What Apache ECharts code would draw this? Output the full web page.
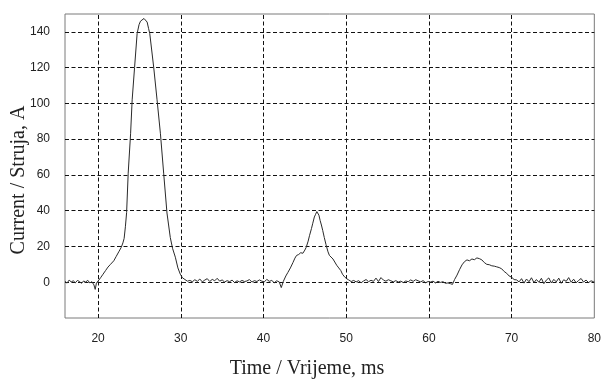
<!DOCTYPE html>
<html>
<head>
<meta charset="utf-8">
<script src="https://cdn.jsdelivr.net/npm/echarts@6/dist/echarts.min.js"></script>
<style>
html,body{margin:0;padding:0;background:#fff;}
#chart{width:604px;height:379px;}
</style>
</head>
<body>
<div id="chart"></div>
<script>
// Time (ms) and current (A)
var time = [
16.0,16.25,16.5,16.75,17.0,17.25,17.5,17.75,18.0,18.25,18.5,18.75,19.0,19.25,19.5,19.65,19.8,20.0,
20.3,20.6,20.9,21.2,21.5,21.9,22.2,22.5,22.8,23.0,23.15,23.3,23.45,23.64,23.93,24.12,24.41,24.72,24.95,25.13,25.35,25.55,25.75,25.93,26.1,26.25,26.73,27.13,27.54,27.93,28.33,28.73,29.0,29.34,29.65,29.94,30.2,
30.5,30.8,31.1,31.4,31.7,32.0,32.3,32.6,32.9,33.2,33.5,33.8,34.1,34.4,34.7,35.0,35.3,35.6,35.9,36.2,36.5,36.8,37.1,37.4,37.7,38.0,38.3,38.6,38.9,39.2,39.5,39.8,40.1,40.4,40.7,41.0,41.3,41.6,41.9,42.15,
42.4,42.7,42.95,43.25,43.56,43.8,44.0,44.25,44.5,44.76,45.0,45.16,45.4,45.56,45.8,45.96,46.15,46.3,46.45,46.55,46.7,46.85,47.0,47.16,47.35,47.56,47.8,47.97,48.2,48.4,48.6,48.85,49.1,49.35,49.55,49.8,50.05,50.3,
50.6,50.9,51.2,51.5,51.8,52.1,52.4,52.7,53.0,53.3,53.6,53.9,54.2,54.5,54.8,55.1,55.4,55.7,56.0,56.3,56.6,56.9,57.2,57.5,57.8,58.1,58.4,58.7,59.0,59.3,59.6,59.9,60.2,60.5,60.8,61.1,61.4,61.7,62.0,62.3,62.6,62.85,
63.1,63.4,63.7,64.0,64.3,64.6,64.9,65.2,65.5,65.8,66.1,66.4,66.7,67.0,67.3,67.6,67.9,68.2,68.5,68.8,69.1,69.4,69.7,70.0,70.3,70.6,
70.9,71.2,71.5,71.8,72.1,72.4,72.7,73.0,73.3,73.6,73.9,74.2,74.5,74.8,75.1,75.4,75.7,76.0,76.3,76.6,76.9,77.2,77.5,77.8,78.1,78.4,78.7,79.0,79.3,79.6,79.9,80.0
];
var current = [
0.5,-0.5,1.2,0.2,0.8,-0.3,1.0,0.4,-0.6,0.7,0.1,1.1,-0.4,0.3,-1.5,-4.0,-0.5,0.5,
2.5,4.5,6.5,8.5,10,12,14.5,17,19.5,22,24.5,31,39,61,83,102,120,139,144,146,147,147.5,147,145.5,142,139,120,102,83,61,38.7,25,19,14,8,4.5,2.5,
1.5,0.6,1.0,0.3,1.4,0.5,1.8,0.2,1.2,2.0,0.4,1.6,0.8,2.2,0.6,1.3,0.1,0.9,0.3,1.2,-0.2,0.8,0.2,1.0,0.4,0.7,1.5,0.1,0.9,0.4,1.3,0.6,0.2,1.6,0.5,1.0,-0.3,0.8,0.2,-3.0,
0.5,3.5,5.5,8,11,13.5,15,15.5,16.5,16.2,18,19.5,23,26,30,33,36.5,38,39.5,38.5,37.5,34.5,32,29,25,21,17,15,14,13,12,9.5,8,6.5,4.5,3,2,1.3,
0.4,1.0,0.2,0.9,-0.3,0.7,1.5,0.3,1.1,0.5,2.3,0.4,2.6,1.2,0.6,1.4,0.8,0.2,0.9,0.1,0.6,-0.2,0.7,0.3,1.3,0.5,1.4,0.8,0.2,0.9,-0.3,0.4,0.1,0.6,-0.4,0.5,-0.1,0.3,-0.6,-0.4,-0.8,-1.2,
1.5,4,7,9.7,11.5,12.5,12,13,12.6,13.6,13.2,12.5,11,10,9.8,9.2,9.0,8.6,8.2,7.5,6,5,3.5,2.8,1.5,1.3,
0.2,2.0,-0.5,1.8,0.3,2.5,-0.2,1.5,0.0,2.2,-0.8,1.2,2.4,-0.4,1.6,0.2,2.3,-0.6,1.4,0.5,2.6,0.0,1.7,-0.3,1.0,2.1,0.1,1.2,-0.2,0.8,0.3,0.5
];
var xTickLabels = [20, 30, 40, 50, 60, 70, 80];
var xGridLines = [20, 30, 40, 50, 60, 70];
var yTickLabels = [0, 20, 40, 60, 80, 100, 120, 140];
var xTitle = 'Time / Vrijeme, ms';
var yTitle = 'Current / Struja, A';

var seriesData = time.map(function (t, i) { return [t, current[i]]; });
var gridLineStyle = { color: '#111', width: 1, type: [4, 2.5] };
var markData = xGridLines.map(function (v) { return { xAxis: v }; })
  .concat(yTickLabels.map(function (v) { return { yAxis: v }; }));

var chart = echarts.init(document.getElementById('chart'), null, { renderer: 'canvas' });
chart.setOption({
  animation: false,
  backgroundColor: '#fff',
  grid: { left: 65, right: 6, top: 14, bottom: 61, show: true, borderColor: '#7a7a7a', borderWidth: 1, backgroundColor: 'transparent' },
  xAxis: {
    type: 'value', min: 16, max: 80, interval: 2,
    axisLine: { show: false }, axisTick: { show: false }, splitLine: { show: false },
    axisLabel: {
      margin: 15, color: '#222', fontSize: 12,
      fontFamily: '"Liberation Sans Narrow", "Arial Narrow", "Liberation Sans", sans-serif',
      formatter: function (v) { return xTickLabels.indexOf(v) >= 0 ? String(v) : ''; }
    }
  },
  yAxis: {
    type: 'value', min: -20, max: 150, interval: 20,
    axisLine: { show: false }, axisTick: { show: false }, splitLine: { show: false },
    axisLabel: {
      margin: 15, color: '#222', fontSize: 12,
      fontFamily: '"Liberation Sans Narrow", "Arial Narrow", "Liberation Sans", sans-serif',
      formatter: function (v) { return yTickLabels.indexOf(v) >= 0 ? String(v) : ''; }
    }
  },
  graphic: [
    { type: 'text', x: 307, y: 359, style: { text: xTitle, font: '20px "Liberation Serif", "Times New Roman", serif', fill: '#222', align: 'center', verticalAlign: 'top' } },
    { type: 'text', x: 9, y: 180, rotation: Math.PI / 2, style: { text: yTitle, font: '20px "Liberation Serif", "Times New Roman", serif', fill: '#222', align: 'center', verticalAlign: 'top' } }
  ],
  series: [{
    type: 'line', data: seriesData, showSymbol: false, symbol: 'none',
    lineStyle: { color: '#2a2a2a', width: 1 },
    z: 3,
    markLine: {
      silent: true, symbol: ['none', 'none'], label: { show: false },
      lineStyle: gridLineStyle, data: markData, z: 1, animation: false
    }
  }]
});
</script>
</body>
</html>
